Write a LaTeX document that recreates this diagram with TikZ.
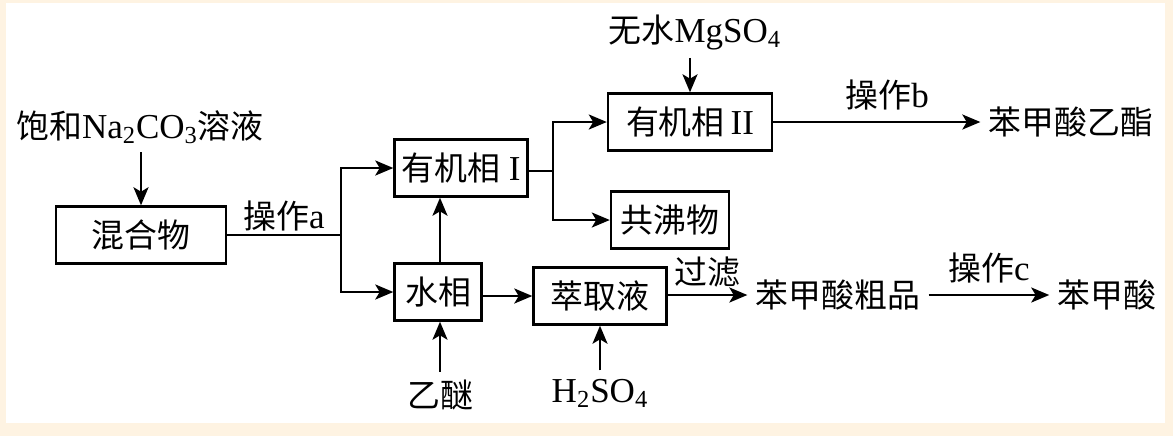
\documentclass[tikz,border=0pt]{standalone}
\usepackage{fontspec}
\setmainfont{Liberation Serif}
\newfontfamily\cjk[Scale=0.94]{Noto Sans CJK SC}
\usetikzlibrary{arrows.meta}
\definecolor{bgcream}{RGB}{254,243,226}
\newcommand{\zh}[1]{{\cjk #1}}
\tikzset{
  flowbox/.style={draw, line width=1.2pt, minimum height=28.5pt, inner sep=0pt},
  flowtxt/.style={inner sep=4pt},
  flowline/.style={line width=1.2pt},
  flowarrow/.style={line width=1.2pt, -{Stealth[length=9pt,width=7.5pt,inset=2.2pt]}}
}
\begin{document}
\begin{tikzpicture}[x=0.5pt,y=-0.5pt,font=\fontsize{17.5}{20}\selectfont]
            % background
            \fill[bgcream] (0,0) rectangle (1173,436);
            \fill[white] (6,3) rectangle (1165,423);
            \useasboundingbox (0,0) rectangle (1173,436);

            % boxes
            \node[flowbox, minimum width=85pt]   (mix)   at (141,235) {\zh{混合物}};
            \node[flowbox, minimum width=66.5pt] (org1)  at (461,168) {\zh{有机相} I};
            \node[flowbox, minimum width=43.5pt] (water) at (438,292) {\zh{水相}};
            \node[flowbox, minimum width=66.5pt] (ext)   at (600,296) {\zh{萃取液}};
            \node[flowbox, minimum width=82pt]   (org2)  at (690,122) {\zh{有机相}\,II};
            \node[flowbox, minimum width=59pt]   (boil)  at (670,220) {\zh{共沸物}};

            % free texts
            \node[flowtxt] (soda)  at (140,127) {\zh{饱和}Na\textsubscript{2}CO\textsubscript{3}\zh{溶液}};
            \node[flowtxt] (mgso)  at (695,32)  {\zh{无水}MgSO\textsubscript{4}};
            \node[flowtxt] (ester) at (1071,122) {\zh{苯甲酸乙酯}};
            \node[flowtxt] (ether) at (440,395) {\zh{乙醚}};
            \node[flowtxt] (acid)  at (600,393) {H\textsubscript{2}SO\textsubscript{4}};
            \node[flowtxt] (crude) at (838,295) {\zh{苯甲酸粗品}};
            \node[flowtxt] (bzac)  at (1107,295) {\zh{苯甲酸}};

            % branch points
            \coordinate (splitA) at (341,235);
            \coordinate (splitB) at (553,171);

            % connectors
            \draw[flowarrow] (soda.south -| mix.north) -- (mix.north);
            \draw[flowline] (mix.east) -- node[above=-2pt] {\zh{操作}a} (splitA);
            \draw[flowarrow] (splitA) |- (org1.west);
            \draw[flowarrow] (splitA) |- (water.west);
            \draw[flowline] (org1.east |- splitB) -- (splitB);
            \draw[flowarrow] (splitB) |- (org2.west);
            \draw[flowarrow] (splitB) |- (boil.west);
            \draw[flowarrow] (mgso.south -| org2.north) -- (org2.north);
            \draw[flowarrow] (org2) -- node[above=2pt, pos=0.55] {\zh{操作}b} (ester);
            \draw[flowarrow] (water.north -| ether) -- (org1.south -| ether);
            \draw[flowarrow] (ether) -- (ether |- water.south);
            \draw[flowarrow] (water.east |- ext) -- (ext.west);
            \draw[flowarrow] (acid) -- (acid |- ext.south);
            \draw[flowarrow] (ext.east |- crude) -- node[above=0pt, pos=0.5] {\zh{过滤}} (crude);
            \draw[flowarrow] (crude) -- node[above=2pt] {\zh{操作}c} (bzac);
        \end{tikzpicture}
\end{document}
